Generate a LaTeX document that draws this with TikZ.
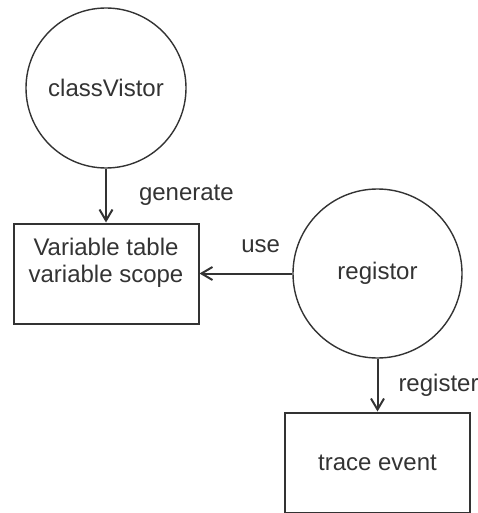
\documentclass[tikz,border=0pt]{standalone}
\usepackage{fontspec}
\setmainfont{Liberation Sans}
\usetikzlibrary{arrows.meta}
\definecolor{ink}{HTML}{333333}
\begin{document}
\begin{tikzpicture}[x=0.5pt,y=-0.5pt,font=\fontsize{12pt}{13.5pt}\selectfont,text=ink]

    % Styles
    \tikzstyle{circ} = [circle, draw=ink, line width=0.7pt, text centered]
    \tikzstyle{box} = [rectangle, minimum width=92.5pt, minimum height=50pt, align=center, draw=ink, line width=1pt]
    \tikzstyle{arrow} = [draw=ink, line width=1pt, -{Straight Barb[length=5.5pt,width=6.5pt]}]

    \useasboundingbox (0,0) rectangle (477,513);

    % Nodes
    \node (classvistor) [circ, minimum size=80pt] at (106,88) {classVistor};
    \node (varbox) [box, below of=classvistor, node distance=92.75pt] {Variable table\\variable scope\\\mbox{}};
    \node (registor) [circ, minimum size=84.5pt, right of=varbox, node distance=135.75pt] {registor};
    \node (tracebox) [box, below of=registor, node distance=94.5pt] {trace event};

    % Arrows
    \draw [arrow] (classvistor) -- (varbox) node[midway, right=16pt, inner sep=0pt] {generate};
    \draw [arrow] (registor) -- (varbox) node[pos=0.34, above=10pt, inner sep=0pt] {use};
    \draw [arrow] (registor) -- (tracebox) node[midway, right=10pt, inner sep=0pt] {register};

\end{tikzpicture}
\end{document}
